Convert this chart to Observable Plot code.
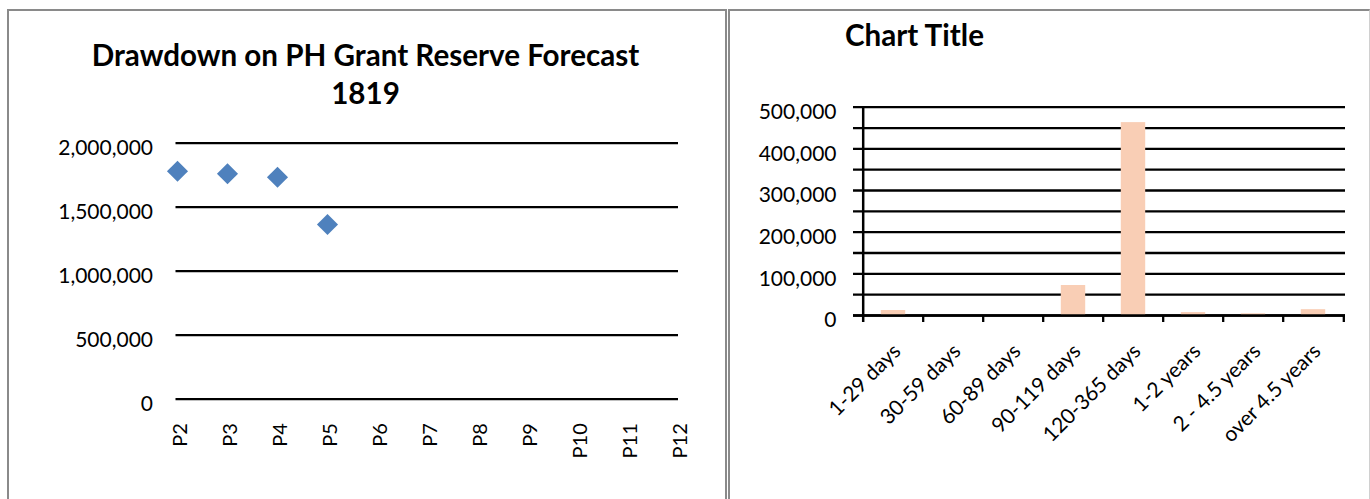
<!DOCTYPE html>
<html>
<head>
<meta charset="utf-8">
<script src="https://cdn.jsdelivr.net/npm/d3@7"></script>
<script src="https://cdn.jsdelivr.net/npm/@observablehq/plot@0.6"></script>
<style>
  html, body { margin: 0; padding: 0; background: #fff; width: 1370px; height: 499px; overflow: hidden; font-family: Lato, sans-serif; }
  .panel { position: absolute; box-sizing: border-box; }
  #p1 { left: 7px; top: 9px; width: 720px; height: 500px; border: 2px solid #8a8a8a; border-bottom: none; }
  #p2 { left: 728px; top: 9px; width: 642px; height: 500px; border-top: 2px solid #8a8a8a; border-left: 2px solid #8a8a8a; border-right: 1px solid #d0d0d0; }
  .title { position: absolute; font-family: Lato, sans-serif; font-weight: bold; font-size: 29.6px; line-height: 38px; color: #000; white-space: nowrap; }
  #t1 { left: 7px; width: 717px; top: 36.3px; text-align: center; }
  #t2 { left: 845px; top: 15.8px; }
  .chart { position: absolute; }
  #c1 { left: 0; top: 100px; }
  #c2 { left: 728px; top: 60px; }
</style>
</head>
<body>
<div class="panel" id="p1"></div>
<div class="panel" id="p2"></div>
<div class="title" id="t1">Drawdown on PH Grant Reserve Forecast<br>1819</div>
<div class="title" id="t2">Chart Title</div>
<div class="chart" id="c1"></div>
<div class="chart" id="c2"></div>
<script>
// ---- Left chart data ----
const periods = ["P2", "P3", "P4", "P5", "P6", "P7", "P8", "P9", "P10", "P11", "P12"];
const reserve = [1781000, 1761000, 1734000, 1365000, null, null, null, null, null, null, null];
const reserveTicks = [0, 500000, 1000000, 1500000, 2000000];

// ---- Right chart data ----
const ageBands = ["1-29 days", "30-59 days", "60-89 days", "90-119 days", "120-365 days", "1-2 years", "2 - 4.5 years", "over 4.5 years"];
const ageValues = [12000, 0, 0, 72000, 463000, 7000, 4000, 14000];
const ageGridTicks = [0, 50000, 100000, 150000, 200000, 250000, 300000, 350000, 400000, 450000, 500000];
const ageLabelTicks = [0, 100000, 200000, 300000, 400000, 500000];

const fmt = d3.format(",");
const ink = "#000";

// ---- Left chart ----
const reserveRows = periods.map((p, i) => ({period: p, value: reserve[i]})).filter(d => d.value != null);
const W1 = 724, H1 = 399;
const left = Plot.plot({
  width: W1, height: H1,
  marginTop: 42.7, marginBottom: 100.3, marginLeft: 175.5, marginRight: 46,
  style: {fontFamily: "Lato, sans-serif", fontSize: "21px", color: ink, background: "transparent", overflow: "visible"},
  x: {type: "point", domain: periods, padding: 0},
  y: {domain: [0, 2000000]},
  marks: [
    Plot.ruleY(reserveTicks, {stroke: ink, strokeWidth: 2.3}),
    Plot.axisY({ticks: reserveTicks, tickSize: 0, tickPadding: 23, tickFormat: fmt, dy: 5, fontSize: 21, fill: ink, label: null}),
    Plot.axisX({tickSize: 0, tickRotate: -90, textAnchor: "end", lineAnchor: "middle", tickPadding: 24, dx: 3, fontSize: 20, fill: ink, label: null}),
    Plot.dot(reserveRows, {x: "period", y: "value", symbol: "diamond2", r: 9.5, fill: "#4F81BD", stroke: "none"})
  ]
});
document.getElementById("c1").appendChild(left);

// ---- Right chart ----
const ageRows = ageBands.map((b, i) => ({band: b, value: ageValues[i]}));
const W2 = 642, H2 = 439, mL2 = 132, mR2 = 25, mT2 = 46.7, mB2 = 184;
const step = (W2 - mL2 - mR2) / ageBands.length;
const innerH2 = H2 - mT2 - mB2;
const right = Plot.plot({
  width: W2, height: H2,
  marginTop: mT2, marginBottom: mB2, marginLeft: mL2, marginRight: mR2,
  style: {fontFamily: "Lato, sans-serif", fontSize: "21px", color: ink, background: "transparent", overflow: "visible"},
  x: {type: "band", domain: ageBands, padding: 0},
  y: {domain: [0, 500000]},
  marks: [
    Plot.ruleY(ageGridTicks, {stroke: ink, strokeWidth: 2.3, insetLeft: -7}),
    Plot.barY(ageRows, {x: "band", y: "value", fill: "#F9CEB5", insetLeft: 17.8, insetRight: 17.8}),
    Plot.ruleY([0], {stroke: ink, strokeWidth: 2.5, insetLeft: -7}),
    Plot.ruleX([ageBands[0]], {dx: -step / 2, stroke: ink, strokeWidth: 2.5, insetBottom: -7}),
    Plot.ruleX(ageBands.slice(1), {dx: -step / 2, stroke: ink, strokeWidth: 2.3, insetTop: innerH2, insetBottom: -7}),
    Plot.ruleX([ageBands[ageBands.length - 1]], {dx: step / 2, stroke: ink, strokeWidth: 2.3, insetTop: innerH2, insetBottom: -7}),
    Plot.axisY({ticks: ageLabelTicks, tickSize: 0, tickPadding: 24, tickFormat: fmt, dy: 5, fontSize: 21, fill: ink, label: null}),
    Plot.axisX({tickSize: 0, tickRotate: -45, textAnchor: "end", lineAnchor: "bottom", tickPadding: 37, dx: 8.5, fontSize: 21, fill: ink, label: null})
  ]
});
document.getElementById("c2").appendChild(right);
</script>
</body>
</html>
